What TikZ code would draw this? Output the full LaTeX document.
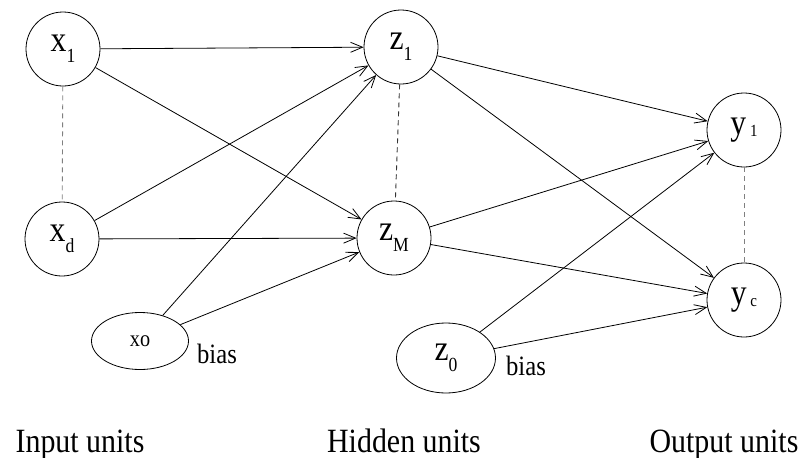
\documentclass[tikz,border=0pt]{standalone}
\usepackage{fontspec}
\setmainfont{Liberation Serif}
\usetikzlibrary{arrows.meta,shapes.geometric}
\newcommand\lowsub[1]{\raisebox{-0.3em}{\fontsize{20}{20}\selectfont #1}}
\newcommand\narrow[1]{\scalebox{0.88}[1]{#1}}
\tikzset{
  unit/.style={circle,draw,line width=0.8pt,minimum size=74pt,inner sep=0pt,font=\fontsize{36}{36}\selectfont},
  biasunit/.style={ellipse,draw,line width=0.8pt,inner sep=0pt},
  conn/.style={line width=0.8pt,-{Straight Barb[length=12pt,width=10pt,line width=0.8pt]}},
  dots/.style={line width=0.9pt,dash pattern=on 5pt off 4pt},
  caption/.style={font=\fontsize{34}{34}\selectfont,anchor=base},
  biaslabel/.style={font=\fontsize{28}{28}\selectfont,anchor=base}
}
\begin{document}
\begin{tikzpicture}[x=1pt,y=-1pt]
\useasboundingbox (0,0) rectangle (804,458);
\node[unit] (x1) at (63,49) {\narrow{x\lowsub{1}}};
\node[unit] (xd) at (62,239) {\narrow{x\lowsub{d}}};
\node[biasunit,minimum width=97pt,minimum height=57pt,font=\fontsize{23}{23}\selectfont] (x0) at (140,341) {\narrow{xo}};
\node[unit] (z1) at (401,47) {\narrow{z\lowsub{1}}};
\node[unit] (zM) at (394,238) {\narrow{z\lowsub{M}}};
\node[biasunit,minimum width=99pt,minimum height=70pt,font=\fontsize{36}{36}\selectfont] (z0) at (446,358) {\narrow{z\lowsub{0}}};
\node[unit] (y1) at (744,130) {\narrow{y\raisebox{-0.05em}{\fontsize{17}{17}\selectfont\ 1}}};
\node[unit] (yc) at (744,300) {\narrow{y\raisebox{-0.05em}{\fontsize{17}{17}\selectfont\ c}}};
\node[biaslabel] (b1) at (217,363) {\narrow{bias}};
\node[biaslabel] (b2) at (526,375) {\narrow{bias}};
\node[caption] (c1) at (80,452) {\narrow{Input units}};
\node[caption] (c2) at (404,452) {\narrow{Hidden units}};
\node[caption] (c3) at (724,452) {\narrow{Output units}};
\draw[dots,gray] (x1) -- (xd);
\draw[dots,black!80] (z1) -- (zM);
\draw[dots,gray] (y1) -- (yc);
\draw[conn] (x1) -- (z1);
\draw[conn] (x1) -- (zM);
\draw[conn] (xd) -- (z1);
\draw[conn] (xd) -- (zM);
\draw[conn] (x0) -- (z1);
\draw[conn] (x0) -- (zM);
\draw[conn] (z1) -- (y1);
\draw[conn] (z1) -- (yc);
\draw[conn] (zM) -- (y1);
\draw[conn] (zM) -- (yc);
\draw[conn] (z0) -- (y1);
\draw[conn] (z0) -- (yc);
\end{tikzpicture}
\end{document}
